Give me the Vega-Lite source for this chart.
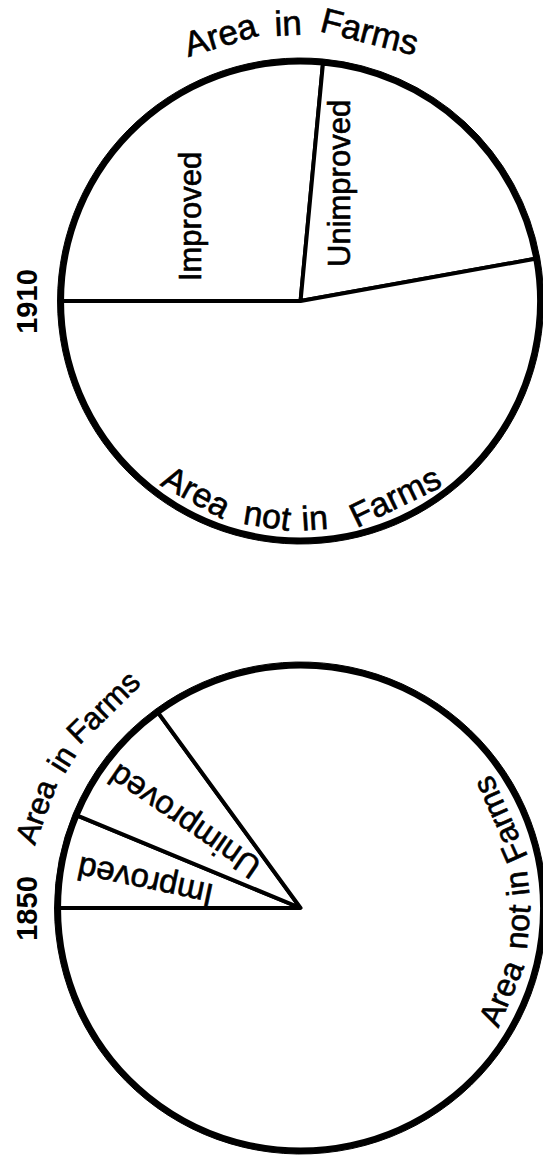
{
  "$schema": "https://vega.github.io/schema/vega-lite/v6.json",
  "width": 503,
  "height": 1159,
  "autosize": {"type": "none"},
  "padding": {"left": 40, "top": 0, "right": 0, "bottom": 0},
  "background": "white",
  "config": {"view": {"stroke": null}, "text": {"stroke": "black", "strokeWidth": 0.6}},
  "datasets": {
    "pies": [
      {"Year": "1910", "Category": "Improved", "Share": 26.5},
      {"Year": "1910", "Category": "Unimproved", "Share": 20.67},
      {"Year": "1910", "Category": "Area not in Farms", "Share": 52.83},
      {"Year": "1850", "Category": "Improved", "Share": 6.25},
      {"Year": "1850", "Category": "Unimproved", "Share": 8.72},
      {"Year": "1850", "Category": "Area not in Farms", "Share": 85.03}
    ],
    "labels": [
      {"Year": "1910", "Label": "Improved", "Word": "Improved", "deg": 307.9},
      {"Year": "1910", "Label": "Unimproved", "Word": "Unimproved", "deg": 19.2},
      {"Year": "1850", "Label": "Improved", "Word": "Improved", "deg": 280.1},
      {"Year": "1850", "Label": "Unimproved", "Word": "Unimproved", "deg": 307.2},
      {"Year": "1910", "Label": "Area in Farms", "Word": "Area", "deg": 343.2},
      {"Year": "1910", "Label": "Area in Farms", "Word": "in", "deg": 357.4},
      {"Year": "1910", "Label": "Area in Farms", "Word": "Farms", "deg": 14.4},
      {"Year": "1850", "Label": "Area in Farms", "Word": "Area", "deg": 290},
      {"Year": "1850", "Label": "Area in Farms", "Word": "in", "deg": 302},
      {"Year": "1850", "Label": "Area in Farms", "Word": "Farms", "deg": 315.5},
      {"Year": "1910", "Label": "Area not in Farms", "Word": "Area", "deg": 208.6},
      {"Year": "1910", "Label": "Area not in Farms", "Word": "not", "deg": 188.8},
      {"Year": "1910", "Label": "Area not in Farms", "Word": "in", "deg": 176.3},
      {"Year": "1910", "Label": "Area not in Farms", "Word": "Farms", "deg": 154.2},
      {"Year": "1850", "Label": "Area not in Farms", "Word": "Area", "deg": 113},
      {"Year": "1850", "Label": "Area not in Farms", "Word": "not", "deg": 95},
      {"Year": "1850", "Label": "Area not in Farms", "Word": "in", "deg": 83.6},
      {"Year": "1850", "Label": "Area not in Farms", "Word": "Farms", "deg": 66.1}
    ]
  },
  "encoding": {
    "x": {"datum": "center", "type": "nominal", "scale": {"type": "point", "domain": ["center"], "padding": 0, "align": 0.518}, "axis": null},
    "y": {
      "field": "Year", "type": "nominal",
      "scale": {"type": "point", "domain": ["1910", "1850"], "padding": 0.4547, "align": 0.5453},
      "axis": {"title": null, "domain": false, "ticks": false, "tickSize": 0, "grid": false, "labelAngle": -90, "labelAlign": "center", "labelBaseline": "alphabetic", "labelPadding": 4, "labelFont": "Liberation Sans", "labelFontSize": 29, "labelFontWeight": "bold", "labelColor": "black"}
    }
  },
  "layer": [
    {
      "data": {"name": "pies"},
      "transform": [{"filter": "datum.Year == '1910'"}],
      "mark": {"type": "arc", "outerRadius": 243, "fill": "black", "stroke": "black", "strokeWidth": 1},
      "encoding": {
        "theta": {"field": "Share", "type": "quantitative", "stack": true, "scale": {"domain": [0, 100], "range": [1.39277, 7.67596]}},
        "detail": {"field": "Category"}
      }
    },
    {
      "data": {"name": "pies"},
      "transform": [{"filter": "datum.Year == '1910'"}],
      "mark": {"type": "arc", "outerRadius": 238.5, "fill": "white", "stroke": "black", "strokeWidth": 4, "strokeJoin": "round"},
      "encoding": {
        "theta": {"field": "Share", "type": "quantitative", "stack": true, "scale": {"domain": [0, 100], "range": [1.39277, 7.67596]}},
        "detail": {"field": "Category"}
      }
    },
    {
      "data": {"name": "pies"},
      "transform": [{"filter": "datum.Year == '1850'"}],
      "mark": {"type": "arc", "outerRadius": 246, "fill": "black", "stroke": "black", "strokeWidth": 1},
      "encoding": {
        "theta": {"field": "Share", "type": "quantitative", "stack": true, "scale": {"domain": [0, 100], "range": [5.65312, 11.93631]}},
        "detail": {"field": "Category"}
      }
    },
    {
      "data": {"name": "pies"},
      "transform": [{"filter": "datum.Year == '1850'"}],
      "mark": {"type": "arc", "outerRadius": 241.5, "fill": "white", "stroke": "black", "strokeWidth": 4, "strokeJoin": "round"},
      "encoding": {
        "theta": {"field": "Share", "type": "quantitative", "stack": true, "scale": {"domain": [0, 100], "range": [5.65312, 11.93631]}},
        "detail": {"field": "Category"}
      }
    },
    {
      "data": {"name": "labels"},
      "transform": [{"filter": "datum.Year == '1910' && datum.Label == 'Improved'"}],
      "mark": {"type": "text", "radius": 137.6, "angle": 270, "font": "Liberation Sans", "fontSize": 31, "align": "center", "baseline": "middle", "color": "black"},
      "encoding": {
        "text": {"field": "Word", "type": "nominal"},
        "theta": {"field": "deg", "type": "quantitative", "scale": {"domain": [0, 360], "range": [0, 6.283185]}}
      }
    },
    {
      "data": {"name": "labels"},
      "transform": [{"filter": "datum.Year == '1910' && datum.Label == 'Unimproved'"}],
      "mark": {"type": "text", "radius": 124.5, "angle": 270, "font": "Liberation Sans", "fontSize": 31, "align": "center", "baseline": "middle", "color": "black"},
      "encoding": {
        "text": {"field": "Word", "type": "nominal"},
        "theta": {"field": "deg", "type": "quantitative", "scale": {"domain": [0, 360], "range": [0, 6.283185]}}
      }
    },
    {
      "data": {"name": "labels"},
      "transform": [{"filter": "datum.Year == '1850' && datum.Label == 'Improved'"}],
      "mark": {"type": "text", "radius": 157.4, "angle": 192, "font": "Liberation Sans", "fontSize": 33, "align": "center", "baseline": "middle", "color": "black"},
      "encoding": {
        "text": {"field": "Word", "type": "nominal"},
        "theta": {"field": "deg", "type": "quantitative", "scale": {"domain": [0, 360], "range": [0, 6.283185]}}
      }
    },
    {
      "data": {"name": "labels"},
      "transform": [{"filter": "datum.Year == '1850' && datum.Label == 'Unimproved'"}],
      "mark": {"type": "text", "radius": 144.7, "angle": 214.4, "font": "Liberation Sans", "fontSize": 32.5, "align": "center", "baseline": "middle", "color": "black"},
      "encoding": {
        "text": {"field": "Word", "type": "nominal"},
        "theta": {"field": "deg", "type": "quantitative", "scale": {"domain": [0, 360], "range": [0, 6.283185]}}
      }
    },
    {
      "data": {"name": "labels"},
      "transform": [{"filter": "datum.Year == '1910' && datum.Label == 'Area in Farms'"}],
      "mark": {"type": "text", "radius": 277, "font": "Liberation Sans", "fontSize": 35, "align": "center", "baseline": "middle", "color": "black"},
      "encoding": {
        "text": {"field": "Word", "type": "nominal"},
        "theta": {"field": "deg", "type": "quantitative", "scale": {"domain": [0, 360], "range": [0, 6.283185]}},
        "angle": {"field": "deg", "type": "quantitative", "scale": {"domain": [0, 360], "range": [0, 360]}}
      }
    },
    {
      "data": {"name": "labels"},
      "transform": [{"filter": "datum.Year == '1850' && datum.Label == 'Area in Farms'"}],
      "mark": {"type": "text", "radius": 280, "font": "Liberation Sans", "fontSize": 31, "align": "center", "baseline": "middle", "color": "black"},
      "encoding": {
        "text": {"field": "Word", "type": "nominal"},
        "theta": {"field": "deg", "type": "quantitative", "scale": {"domain": [0, 360], "range": [0, 6.283185]}},
        "angle": {"field": "deg", "type": "quantitative", "scale": {"domain": [0, 360], "range": [0, 360]}}
      }
    },
    {
      "data": {"name": "labels"},
      "transform": [{"filter": "datum.Year == '1910' && datum.Label == 'Area not in Farms'"}],
      "mark": {"type": "text", "radius": 219, "font": "Liberation Sans", "fontSize": 34, "align": "center", "baseline": "middle", "color": "black"},
      "encoding": {
        "text": {"field": "Word", "type": "nominal"},
        "theta": {"field": "deg", "type": "quantitative", "scale": {"domain": [0, 360], "range": [0, 6.283185]}},
        "angle": {"field": "deg", "type": "quantitative", "scale": {"domain": [0, 360], "range": [-180, 180]}}
      }
    },
    {
      "data": {"name": "labels"},
      "transform": [{"filter": "datum.Year == '1850' && datum.Label == 'Area not in Farms'"}],
      "mark": {"type": "text", "radius": 219, "font": "Liberation Sans", "fontSize": 32, "align": "center", "baseline": "middle", "color": "black"},
      "encoding": {
        "text": {"field": "Word", "type": "nominal"},
        "theta": {"field": "deg", "type": "quantitative", "scale": {"domain": [0, 360], "range": [0, 6.283185]}},
        "angle": {"field": "deg", "type": "quantitative", "scale": {"domain": [0, 360], "range": [-180, 180]}}
      }
    }
  ],
  "resolve": {"scale": {"theta": "independent", "angle": "independent"}}
}
